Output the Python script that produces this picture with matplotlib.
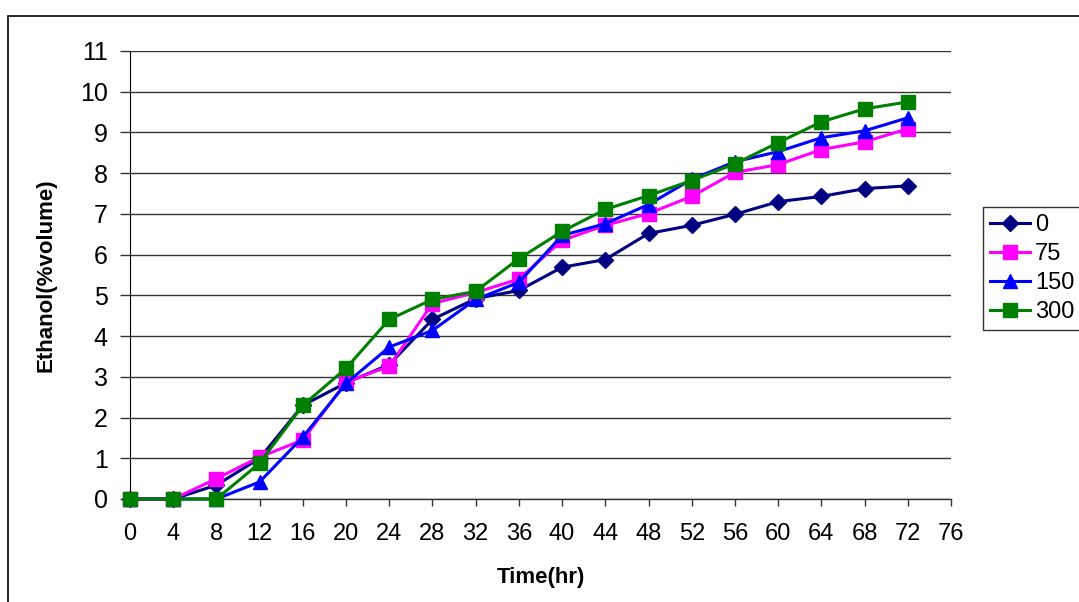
import matplotlib.pyplot as plt
from matplotlib.patches import Rectangle

plt.rcParams['font.family'] = ['Liberation Sans', 'DejaVu Sans']

time_hr = [0, 4, 8, 12, 16, 20, 24, 28, 32, 36, 40, 44, 48, 52, 56, 60, 64, 68, 72]
eth_0 = [0, 0, 0.34, 1.0, 2.3, 2.85, 3.3, 4.41, 4.92, 5.12, 5.69, 5.88, 6.52, 6.72, 6.99, 7.3, 7.43, 7.62, 7.69]
eth_75 = [0, 0, 0.5, 1.03, 1.45, 2.87, 3.26, 4.8, 5.07, 5.4, 6.35, 6.72, 7.01, 7.43, 8.02, 8.21, 8.58, 8.77, 9.09]
eth_150 = [0, 0, 0, 0.42, 1.52, 2.84, 3.73, 4.14, 4.9, 5.32, 6.47, 6.76, 7.23, 7.85, 8.28, 8.53, 8.87, 9.04, 9.36]
eth_300 = [0, 0, 0, 0.88, 2.3, 3.21, 4.41, 4.9, 5.1, 5.9, 6.57, 7.11, 7.45, 7.82, 8.23, 8.75, 9.26, 9.58, 9.75]
labels = ["0", "75", "150", "300"]

fig = plt.figure(figsize=(10.79, 6.02), dpi=100)
ax = fig.add_axes([130/1079, 1-499/602, (951-130)/1079, (499-51)/602])

# outer chart border
fig.patches.append(Rectangle((8/1079, -0.1), 1.2, 1.1 - 16/602, transform=fig.transFigure,
                             fill=False, edgecolor='black', linewidth=1.2))

ax.plot(time_hr, eth_0, color='#000080', marker='D', markersize=8, lw=2.2, label=labels[0], zorder=3, clip_on=False)
ax.plot(time_hr, eth_75, color='#FF00FF', marker='s', markersize=9.5, lw=2.2, label=labels[1], zorder=3, clip_on=False)
ax.plot(time_hr, eth_150, color='#0000FF', marker='^', markersize=10, lw=2.2, label=labels[2], zorder=3, clip_on=False)
ax.plot(time_hr, eth_300, color='#008000', marker='s', markersize=9.5, lw=2.2, label=labels[3], zorder=3, clip_on=False)

ax.set_xlim(0, 76)
ax.set_ylim(0, 11)
ax.set_xticks(range(0, 77, 4))
ax.set_yticks(range(0, 12))
ax.yaxis.grid(True, color='#333333', lw=1)
ax.set_axisbelow(True)
for s in ['top', 'right', 'bottom']:
    ax.spines[s].set_visible(False)
ax.spines['left'].set_color('black')
ax.tick_params(axis='y', length=7, width=1, color='#333333', pad=9, labelsize=18)
ax.tick_params(axis='x', length=5, width=1, color='#333333', pad=12, labelsize=17)
ax.axhline(0, color='#333333', lw=1, zorder=1, clip_on=False)

ax.set_xlabel("Time(hr)", fontsize=16, fontweight='bold', labelpad=16)
ax.set_ylabel("Ethanol(%volume)", fontsize=16, fontweight='bold', labelpad=17)

leg = ax.legend(loc='upper left', bbox_to_anchor=(983/1079, 1-207/602), bbox_transform=fig.transFigure,
                fontsize=17, frameon=True, fancybox=False, edgecolor='black', handlelength=1.7,
                borderpad=0.3, labelspacing=0.3, handletextpad=0.2, borderaxespad=0)
leg.get_frame().set_linewidth(1)

fig.savefig("out.png", dpi=100)
